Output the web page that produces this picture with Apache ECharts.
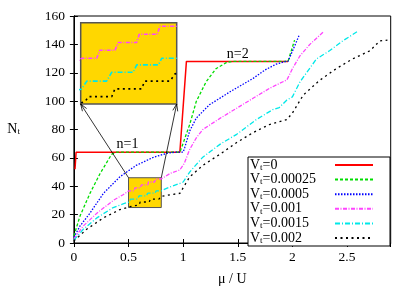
<!DOCTYPE html>
<html><head><meta charset="utf-8">
<script src="https://cdn.jsdelivr.net/npm/echarts@6/dist/echarts.min.js"></script>
<style>html,body{margin:0;padding:0;background:#fff}#c{width:415px;height:291px}</style>
</head><body><div id="c"></div>
<script>
// ---- data ----
const seriesNames = ['Vt=0', 'Vt=0.00025', 'Vt=0.0005', 'Vt=0.001', 'Vt=0.0015', 'Vt=0.002'];
const seriesColors = ['#ff0000', '#00dd00', '#0000ff', '#ff44ff', '#00e8e8', '#000000'];
const curveVt0 = [[0.01,52],[0.02,64],[0.97,64],[1.03,128],[1.96,128]];
const curveVt00025 = [[0,5],[0.056,19],[0.147,35],[0.24,49],[0.345,62.5],[0.39,64],[0.97,64],[0.98,66],[1.06,83.5],[1.12,99.7],[1.21,113.6],[1.30,122.8],[1.40,127.4],[1.45,128],[1.96,128],[2.02,143]];
const curveVt0005 = [[0,4],[0.056,12],[0.147,21],[0.27,35],[0.42,46.6],[0.57,54.7],[0.73,60.5],[0.85,63.2],[0.92,64],[1.0,64],[1.015,67.4],[1.06,79],[1.12,88],[1.24,97.4],[1.43,106.6],[1.64,116],[1.75,122],[1.85,126],[1.94,128],[1.96,128],[2.06,146]];
const curveVt001 = [[0,3],[0.086,12],[0.21,21],[0.36,30],[0.45,34],[0.503,36.8],[0.55,36.8],[0.56,38.9],[0.607,38.9],[0.618,40.9],[0.675,40.9],[0.683,43],[0.739,43],[0.748,45.1],[0.798,45.1],[0.88,49],[0.97,51.5],[1.01,56],[1.06,66],[1.12,74],[1.18,80],[1.34,88],[1.49,95],[1.64,102],[1.79,109],[1.88,112.4],[1.95,115],[2.0,122.8],[2.07,132],[2.16,140],[2.28,148.5]];
const curveVt0015 = [[0,2],[0.086,9.7],[0.21,17.7],[0.36,25],[0.45,27.5],[0.503,28.9],[0.519,30.9],[0.581,30.9],[0.597,33.2],[0.664,33.2],[0.675,35.1],[0.743,35.1],[0.753,36.8],[0.80,36.8],[0.88,39.5],[0.97,42],[1.0,43],[1.06,50],[1.18,60.5],[1.34,69.7],[1.49,76.6],[1.67,87],[1.82,94],[1.88,95.5],[1.95,100.8],[2.0,103],[2.07,113.6],[2.22,129.7],[2.34,135.5],[2.46,142.4],[2.60,149.3]];
const curveVt002 = [[0,1.5],[0.117,9.7],[0.27,17.7],[0.42,23.5],[0.513,25.6],[0.525,26.9],[0.597,26.9],[0.607,28.9],[0.69,28.9],[0.70,30.9],[0.779,30.9],[0.795,32.8],[0.88,34],[0.97,35],[1.015,40.8],[1.06,46.6],[1.18,54.7],[1.34,62.7],[1.49,70.8],[1.64,77.8],[1.79,83.5],[1.95,87],[2.0,91.6],[2.10,104.3],[2.25,114.7],[2.40,122.8],[2.55,129.7],[2.71,135.5],[2.80,142.4],[2.87,143]];
const curves = [curveVt0, curveVt00025, curveVt0005, curveVt001, curveVt0015, curveVt002];
const dashTypes = ['solid', [3,2], [1.5,1.5], [4,1.5,1,1.5], [5,2,1,2], [2,3.5]];
const xRange = [0, 2.9];
const yRange = [0, 160];
const zoomX = [0.5, 0.8];
const zoomY = [25, 46];
const stepLabels = [{text:'n=1', x:0.49, y:69.5}, {text:'n=2', x:1.50, y:133}];

// ---- chart ----
const FONT = '"Liberation Serif", "DejaVu Serif", serif';
const chart = echarts.init(document.getElementById('c'), null, {renderer:'canvas'});
const rich = {
  a: {fontFamily: FONT, fontSize: 14, color:'#000', lineHeight:14},
  b: {fontFamily: FONT, fontSize: 9, color:'#000', lineHeight:9, verticalAlign:'bottom', padding:[5,0,0,0]},
  p: {fontFamily: FONT, fontSize: 14, lineHeight:14}
};
const mctx = document.createElement('canvas').getContext('2d');
function tw(t, size){ mctx.font = size + 'px ' + FONT; return mctx.measureText(t).width; }
const LEGEND_TEXT_W = 80;
function subName(name){
  const rest = name.slice(2);
  const w = tw('V',14) + tw('t',9) + tw(rest,14);
  const pad = Math.max(1, LEGEND_TEXT_W - w);
  return '{a|V}{b|t}{a|' + rest + '}{p|' + ' '.repeat(Math.max(1, Math.round(pad / tw(' ',14)))) + '}';
}
const axisCommon = {
  axisLine:{show:true, lineStyle:{color:'#000', width:1}},
  axisTick:{show:true, inside:true, length:4, lineStyle:{color:'#000'}},
  splitLine:{show:false}
};
const series = [];
curves.forEach((c, i) => {
  series.push({
    name: seriesNames[i], type:'line', xAxisIndex:0, yAxisIndex:0, data:c,
    showSymbol:false, symbol:'none', z:3,
    lineStyle:{color:seriesColors[i], width: i === 0 ? 1.5 : 1.3, type:dashTypes[i]},
    itemStyle:{color:seriesColors[i]}
  });
});
[3,4,5].forEach(i => {
  series.push({
    name: seriesNames[i], type:'line', xAxisIndex:2, yAxisIndex:2, data:curves[i],
    showSymbol:false, symbol:'none', z:5, clip:true,
    lineStyle:{color:seriesColors[i], width:1.6, type:dashTypes[i]}
  });
});
series.push({
  type:'line', xAxisIndex:0, yAxisIndex:0, data:[], z:1,
  markArea:{silent:true, itemStyle:{color:'#ffd700', borderColor:'#555', borderWidth:1},
    data:[[{coord:[zoomX[0], zoomY[1]]},{coord:[zoomX[1], zoomY[0]]}]]},
  markPoint:{silent:true, symbol:'circle', symbolSize:0,
    label:{show:true, position:'inside', fontFamily:FONT, fontSize:14, color:'#000', formatter:p=>p.name},
    data: stepLabels.map(s => ({name:s.text, coord:[s.x, s.y]}))}
});

chart.setOption({
  animation:false,
  grid:[
    {left:73.9, right:24.3, top:16, bottom:43.7, show:true, borderColor:'#000', borderWidth:1, backgroundColor:'transparent'},
    {left:80.7, top:22.7, width:96, height:81.3, show:true, backgroundColor:'#ffd700', borderColor:'#555', borderWidth:1.5, z:4}
  ],
  xAxis:[
    Object.assign({}, axisCommon, {type:'value', gridIndex:0, min:xRange[0], max:xRange[1], interval:0.5,
      axisLabel:{fontFamily:FONT, fontSize:13.5, color:'#000', margin:7, showMaxLabel:false},
      name:'μ / U', nameLocation:'middle', nameGap:29, nameTextStyle:{fontFamily:FONT, fontSize:14, color:'#000'}}),
    Object.assign({}, axisCommon, {type:'value', gridIndex:0, position:'top', min:xRange[0], max:xRange[1], interval:0.5,
      axisLabel:{show:false}}),
    {type:'value', gridIndex:1, min:zoomX[0], max:zoomX[1], show:false}
  ],
  yAxis:[
    Object.assign({}, axisCommon, {type:'value', gridIndex:0, min:yRange[0], max:yRange[1], interval:20,
      axisLabel:{fontFamily:FONT, fontSize:13.5, color:'#000', margin:9},
      name:'{a|N}{b|t}', nameLocation:'middle', nameRotate:0, nameGap:54,
      nameTextStyle:{rich:rich}}),
    Object.assign({}, axisCommon, {type:'value', gridIndex:0, position:'right', min:yRange[0], max:yRange[1], interval:20,
      axisLabel:{show:false}}),
    {type:'value', gridIndex:1, min:zoomY[0], max:zoomY[1], show:false}
  ],
  legend:{
    data: seriesNames, orient:'vertical', left:248, top:157, align:'right',
    itemWidth:38, itemHeight:12, itemGap:0.6, padding:[1,16,1,2],
    borderColor:'#000', borderWidth:1, backgroundColor:'#fff',
    formatter: subName, selectedMode:false,
    itemStyle:{opacity:0},
    textStyle:{rich:rich}
  },
  series: series
});

// arrows from zoom box to inset
function arrow(from, to){
  const dx = to[0]-from[0], dy = to[1]-from[1];
  const L = Math.sqrt(dx*dx+dy*dy), ux = dx/L, uy = dy/L;
  const hl = 7, hw = 2.5;
  const bx = to[0]-ux*hl, by = to[1]-uy*hl;
  return [
    {type:'line', shape:{x1:from[0], y1:from[1], x2:to[0], y2:to[1]}, style:{stroke:'#000', lineWidth:0.8}, z:10},
    {type:'polyline', shape:{points:[[bx-uy*hw, by+ux*hw],[to[0],to[1]],[bx+uy*hw, by-ux*hw]]}, style:{stroke:'#000', fill:null, lineWidth:0.8}, z:10}
  ];
}
const p1 = chart.convertToPixel({xAxisIndex:0, yAxisIndex:0}, [zoomX[0], zoomY[1]]);
const p2 = chart.convertToPixel({xAxisIndex:0, yAxisIndex:0}, [zoomX[1], zoomY[1]]);
const q1 = chart.convertToPixel({xAxisIndex:2, yAxisIndex:2}, [zoomX[0], zoomY[0]]);
const q2 = chart.convertToPixel({xAxisIndex:2, yAxisIndex:2}, [zoomX[1], zoomY[0]]);
chart.setOption({graphic: arrow(p1, q1).concat(arrow(p2, q2))});
</script></body></html>
